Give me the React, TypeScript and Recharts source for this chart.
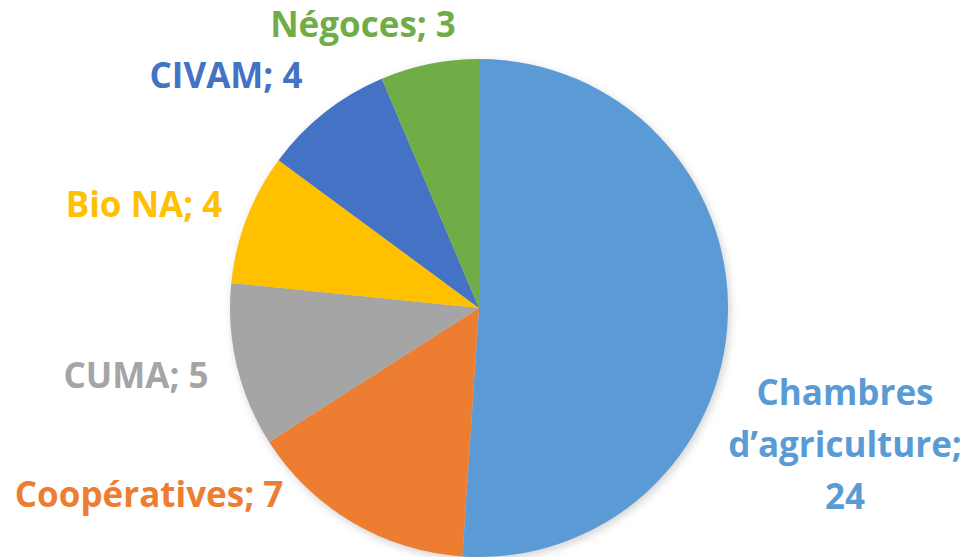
import { Cell, Pie, PieChart } from "recharts";

const categories = [
  "Chambres d’agriculture",
  "Coopératives",
  "CUMA",
  "Bio NA",
  "CIVAM",
  "Négoces",
];
const values = [24, 7, 5, 4, 4, 3];
const colors = ["#5B9BD5", "#ED7D31", "#A5A5A5", "#FFC000", "#4472C4", "#70AD47"];

// label lines + where they sit (x = centre of text, y = first baseline)
const labelLines = [
  ["Chambres", "d’agriculture;", "24"],
  ["Coopératives; 7"],
  ["CUMA; 5"],
  ["Bio NA; 4"],
  ["CIVAM; 4"],
  ["Négoces; 3"],
];
const labelPos = [
  [845, 405],
  [149, 507],
  [136, 388],
  [144, 217],
  [226, 88],
  [363, 37],
];

const data = categories.map((name, i) => ({ name, value: values[i] }));

const W = 968;
const H = 557;

function renderLabel(props: any) {
  const i = props.index;
  const [x, y] = labelPos[i];
  return (
    <text
      key={"lbl" + i}
      x={x}
      y={y}
      textAnchor="middle"
      fill={colors[i]}
      fontFamily="'Open Sans', Lato, sans-serif"
      fontWeight={700}
      fontSize={35}
    >
      {labelLines[i].map((line, j) => (
        <tspan key={j} x={x} dy={j === 0 ? 0 : 52}>
          {line}
        </tspan>
      ))}
    </text>
  );
}

export default function App() {
  return (
    <div style={{ position: "absolute", left: 0, top: 0, width: W, height: H, background: "#fff" }}>
      <PieChart width={W} height={H} margin={{ top: 0, right: 0, bottom: 0, left: 0 }}>
        <defs>
          <filter id="pieShadow" x="-20%" y="-20%" width="140%" height="140%">
            <feGaussianBlur stdDeviation="4" />
          </filter>
        </defs>
        {/* soft shadow under the pie */}
        <Pie
          data={data}
          dataKey="value"
          cx={481}
          cy={311}
          outerRadius={249}
          startAngle={90}
          endAngle={-270}
          stroke="none"
          isAnimationActive={false}
          style={{ filter: "url(#pieShadow)" }}
        >
          {data.map((d, i) => (
            <Cell key={"s" + i} fill="rgba(0,0,0,0.18)" />
          ))}
        </Pie>
        <Pie
          data={data}
          dataKey="value"
          cx={479}
          cy={308}
          outerRadius={249}
          startAngle={90}
          endAngle={-270}
          stroke="none"
          labelLine={false}
          label={renderLabel}
          isAnimationActive={false}
        >
          {data.map((d, i) => (
            <Cell key={"c" + i} fill={colors[i]} />
          ))}
        </Pie>
      </PieChart>
    </div>
  );
}
